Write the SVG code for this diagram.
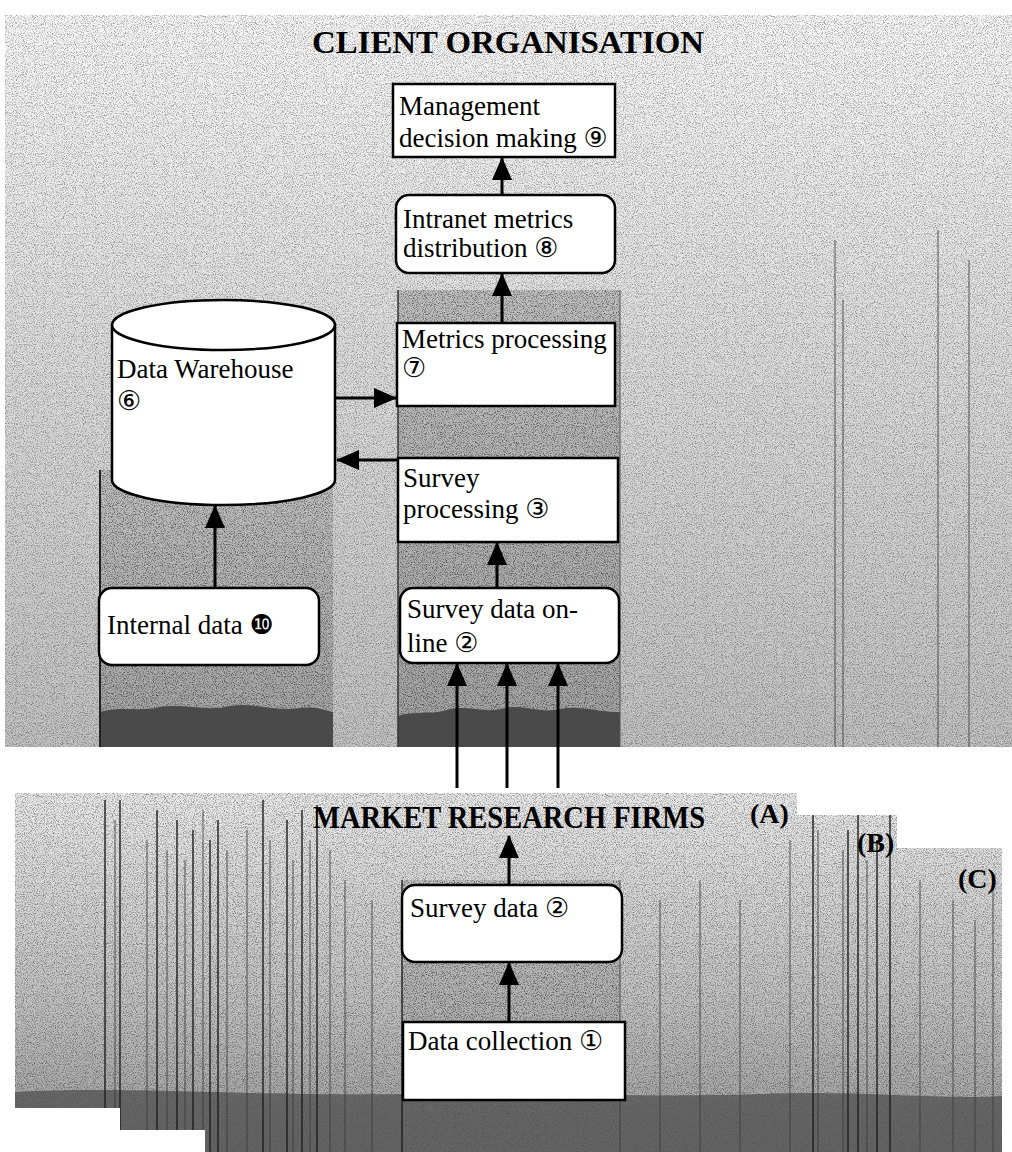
<svg xmlns="http://www.w3.org/2000/svg" width="1012" height="1152" viewBox="0 0 1012 1152">
  <style>
    .box { fill: #ffffff; stroke: #000000; stroke-width: 2.5; }
    .lbl { font-family: "Liberation Serif", "DejaVu Sans", serif; font-size: 27px; fill: #000000; }
    .head { font-family: "Liberation Serif", serif; font-weight: bold; font-size: 31px; fill: #000000; }
    .tag { font-family: "Liberation Serif", serif; font-weight: bold; font-size: 28px; fill: #000000; }
    .link { fill: none; stroke: #000000; stroke-width: 3; marker-end: url(#ah); }
    .streak { stroke: #3a3a3a; stroke-width: 1.5; opacity: 0.55; }
    .streak2 { stroke: #1e1e1e; stroke-width: 2; opacity: 0.7; }
  </style>
  <defs>
    <marker id="ah" markerUnits="userSpaceOnUse" markerWidth="24" markerHeight="22" refX="22" refY="10" orient="auto">
      <path d="M0,0 L23,10 L0,20 Z" fill="#000000"/>
    </marker>
    <linearGradient id="gTop" x1="0" y1="0" x2="0" y2="1">
      <stop offset="0" stop-color="#f8f8f8"/>
      <stop offset="0.45" stop-color="#dedede"/>
      <stop offset="1" stop-color="#c2c2c2"/>
    </linearGradient>
    <linearGradient id="gCol" x1="0" y1="0" x2="0" y2="1">
      <stop offset="0" stop-color="#c0c0c0"/>
      <stop offset="1" stop-color="#a4a4a4"/>
    </linearGradient>
    <linearGradient id="gBot" x1="0" y1="0" x2="0" y2="1">
      <stop offset="0" stop-color="#eaeaea"/>
      <stop offset="0.6" stop-color="#c0c0c0"/>
      <stop offset="1" stop-color="#9a9a9a"/>
    </linearGradient>
    <!-- halftone-like speckle, clipped to whatever shape it is applied to -->
    <filter id="grain" x="0" y="0" width="100%" height="100%">
      <feTurbulence type="fractalNoise" baseFrequency="0.9" numOctaves="2" seed="7" result="t"/>
      <feColorMatrix in="t" type="matrix" values="0 0 0 0 0  0 0 0 0 0  0 0 0 0 0  3.2 0 0 0 -1.45" result="n"/>
      <feComposite in="n" in2="SourceGraphic" operator="in"/>
    </filter>
    <path id="topArea" d="M5,15 H1012 V747 H5 Z"/>
    <path id="botArea" d="M15,793 H797 V815 H897 V848 H1002 V1152 H205 V1130 H120 V1108 H15 Z"/>
    <path id="colL" d="M100,470 H333 V747 H100 Z"/>
    <path id="colC" d="M398,290 H620 V747 H398 Z"/>
    <path id="colB" d="M402,880 H620 V1152 H402 Z"/>
    <clipPath id="botClip"><use href="#botArea"/></clipPath>
  </defs>

  <!-- background shading -->
  <g id="background">
    <rect width="1012" height="1152" fill="#ffffff"/>
    <use href="#topArea" fill="url(#gTop)"/>
    <use href="#topArea" fill="#000" filter="url(#grain)" opacity="0.35"/>
    <use href="#colL" fill="url(#gCol)"/>
    <use href="#colC" fill="url(#gCol)"/>
    <use href="#colL" fill="#000" filter="url(#grain)" opacity="0.5"/>
    <use href="#colC" fill="#000" filter="url(#grain)" opacity="0.5"/>
    <path d="M100,747 V712 C120,706 140,712 160,707 C185,703 205,712 230,706 C255,702 275,712 300,708 C315,706 325,710 333,712 V747 Z" fill="#4a4a4a"/>
    <path d="M398,747 V716 C415,710 430,716 450,709 C470,705 485,714 505,708 C525,704 540,714 560,709 C580,705 600,713 620,712 V747 Z" fill="#4a4a4a"/>
    <line x1="100" y1="470" x2="100" y2="747" stroke="#222" stroke-width="2"/>
    <line x1="398" y1="290" x2="398" y2="747" stroke="#333" stroke-width="1.5"/>
    <line x1="620" y1="290" x2="620" y2="747" stroke="#555" stroke-width="1"/>
    <line x1="835" y1="240" x2="835" y2="747" class="streak"/>
    <line x1="843" y1="300" x2="843" y2="747" class="streak"/>
    <line x1="938" y1="230" x2="938" y2="747" class="streak"/>
    <line x1="969" y1="260" x2="969" y2="747" class="streak"/>

    <use href="#botArea" fill="url(#gBot)"/>
    <use href="#botArea" fill="#000" filter="url(#grain)" opacity="0.4"/>
    <g clip-path="url(#botClip)">
      <use href="#colB" fill="url(#gCol)"/>
      <use href="#colB" fill="#000" filter="url(#grain)" opacity="0.5"/>
      <path d="M15,1092 C120,1086 250,1096 402,1094 C520,1092 650,1098 760,1094 C860,1090 940,1100 1002,1096 V1152 H15 Z" fill="#555555" opacity="0.8"/>
      <line x1="105" y1="800" x2="105" y2="1152" class="streak2"/>
      <line x1="115" y1="820" x2="115" y2="1152" class="streak"/>
      <line x1="120" y1="800" x2="120" y2="1152" class="streak2"/>
      <line x1="147" y1="840" x2="147" y2="1152" class="streak"/>
      <line x1="157" y1="810" x2="157" y2="1152" class="streak2"/>
      <line x1="167" y1="850" x2="167" y2="1152" class="streak"/>
      <line x1="177" y1="820" x2="177" y2="1152" class="streak2"/>
      <line x1="185" y1="860" x2="185" y2="1152" class="streak"/>
      <line x1="193" y1="830" x2="193" y2="1152" class="streak2"/>
      <line x1="203" y1="810" x2="203" y2="1152" class="streak"/>
      <line x1="210" y1="840" x2="210" y2="1152" class="streak2"/>
      <line x1="218" y1="820" x2="218" y2="1152" class="streak2"/>
      <line x1="227" y1="850" x2="227" y2="1152" class="streak"/>
      <line x1="247" y1="830" x2="247" y2="1152" class="streak"/>
      <line x1="263" y1="800" x2="263" y2="1152" class="streak2"/>
      <line x1="270" y1="840" x2="270" y2="1152" class="streak"/>
      <line x1="287" y1="820" x2="287" y2="1152" class="streak2"/>
      <line x1="293" y1="860" x2="293" y2="1152" class="streak"/>
      <line x1="302" y1="810" x2="302" y2="1152" class="streak2"/>
      <line x1="310" y1="840" x2="310" y2="1152" class="streak"/>
      <line x1="317" y1="805" x2="317" y2="1152" class="streak2"/>
      <line x1="330" y1="850" x2="330" y2="1152" class="streak"/>
      <line x1="345" y1="880" x2="345" y2="1152" class="streak"/>
      <line x1="372" y1="900" x2="372" y2="1152" class="streak"/>
      <line x1="402" y1="880" x2="402" y2="1152" class="streak2"/>
      <line x1="620" y1="880" x2="620" y2="1152" class="streak"/>
      <line x1="660" y1="900" x2="660" y2="1152" class="streak"/>
      <line x1="700" y1="880" x2="700" y2="1152" class="streak"/>
      <line x1="740" y1="900" x2="740" y2="1152" class="streak"/>
      <line x1="790" y1="840" x2="790" y2="1152" class="streak"/>
      <line x1="813" y1="815" x2="813" y2="1152" class="streak2"/>
      <line x1="818" y1="830" x2="818" y2="1152" class="streak"/>
      <line x1="843" y1="850" x2="843" y2="1152" class="streak"/>
      <line x1="848" y1="830" x2="848" y2="1152" class="streak2"/>
      <line x1="858" y1="815" x2="858" y2="1152" class="streak2"/>
      <line x1="867" y1="860" x2="867" y2="1152" class="streak"/>
      <line x1="877" y1="840" x2="877" y2="1152" class="streak2"/>
      <line x1="890" y1="815" x2="890" y2="1152" class="streak2"/>
      <line x1="920" y1="880" x2="920" y2="1152" class="streak"/>
      <line x1="953" y1="900" x2="953" y2="1152" class="streak"/>
      <line x1="975" y1="920" x2="975" y2="1152" class="streak"/>
      <line x1="993" y1="880" x2="993" y2="1152" class="streak"/>
    </g>
  </g>

  <!-- headings -->
  <text class="head" x="312" y="53" textLength="392" lengthAdjust="spacingAndGlyphs">CLIENT ORGANISATION</text>
  <text class="head" x="313" y="828" textLength="392" lengthAdjust="spacingAndGlyphs">MARKET RESEARCH FIRMS</text>
  <text class="tag" x="750" y="823">(A)</text>
  <text class="tag" x="857" y="852">(B)</text>
  <text class="tag" x="958" y="888">(C)</text>

  <!-- connectors -->
  <g id="connectors">
    <path class="link" d="M502,195 V158"/>
    <path class="link" d="M502,323 V274"/>
    <path class="link" d="M335,398 H396"/>
    <path class="link" d="M398,460 H337"/>
    <path class="link" d="M497,588 V543"/>
    <path class="link" d="M215,588 V506"/>
    <path class="link" d="M457,788 V664"/>
    <path class="link" d="M507,788 V664"/>
    <path class="link" d="M558,788 V664"/>
    <path class="link" d="M509,885 V836"/>
    <path class="link" d="M509,1022 V963"/>
  </g>

  <!-- client organisation nodes -->
  <g id="n9">
    <rect class="box" x="393" y="84" width="222" height="73"/>
    <text class="lbl" x="399" y="115">Management</text>
    <text class="lbl" x="399" y="147">decision making ⑨</text>
  </g>
  <g id="n8">
    <rect class="box" x="396" y="195" width="219" height="78" rx="13"/>
    <text class="lbl" x="403" y="228">Intranet metrics</text>
    <text class="lbl" x="403" y="257">distribution ⑧</text>
  </g>
  <g id="n7">
    <rect class="box" x="397" y="323" width="218" height="83"/>
    <text class="lbl" x="402" y="348">Metrics processing</text>
    <text class="lbl" x="402" y="377">⑦</text>
  </g>
  <g id="n6">
    <path class="box" d="M112,325 A111.5,25 0 0 1 335,325 V480 A111.5,25 0 0 1 112,480 Z"/>
    <path d="M112,325 A111.5,25 0 0 0 335,325" fill="none" stroke="#000" stroke-width="2.5"/>
    <text class="lbl" x="117" y="378">Data Warehouse</text>
    <text class="lbl" x="117" y="410">⑥</text>
  </g>
  <g id="n3">
    <rect class="box" x="398" y="458" width="220" height="84"/>
    <text class="lbl" x="403" y="487">Survey</text>
    <text class="lbl" x="403" y="518">processing  ③</text>
  </g>
  <g id="n2online">
    <rect class="box" x="400" y="588" width="219" height="75" rx="13"/>
    <text class="lbl" x="407" y="618">Survey data on-</text>
    <text class="lbl" x="407" y="652">line ②</text>
  </g>
  <g id="n10">
    <rect class="box" x="99" y="588" width="220" height="77" rx="13"/>
    <text class="lbl" x="107" y="634">Internal data ❿</text>
  </g>

  <!-- market research firm nodes -->
  <g id="n2">
    <rect class="box" x="402" y="885" width="220" height="77" rx="13"/>
    <text class="lbl" x="410" y="917">Survey data ②</text>
  </g>
  <g id="n1">
    <rect class="box" x="403" y="1022" width="222" height="78"/>
    <text class="lbl" x="408" y="1050">Data collection ①</text>
  </g>
</svg>
